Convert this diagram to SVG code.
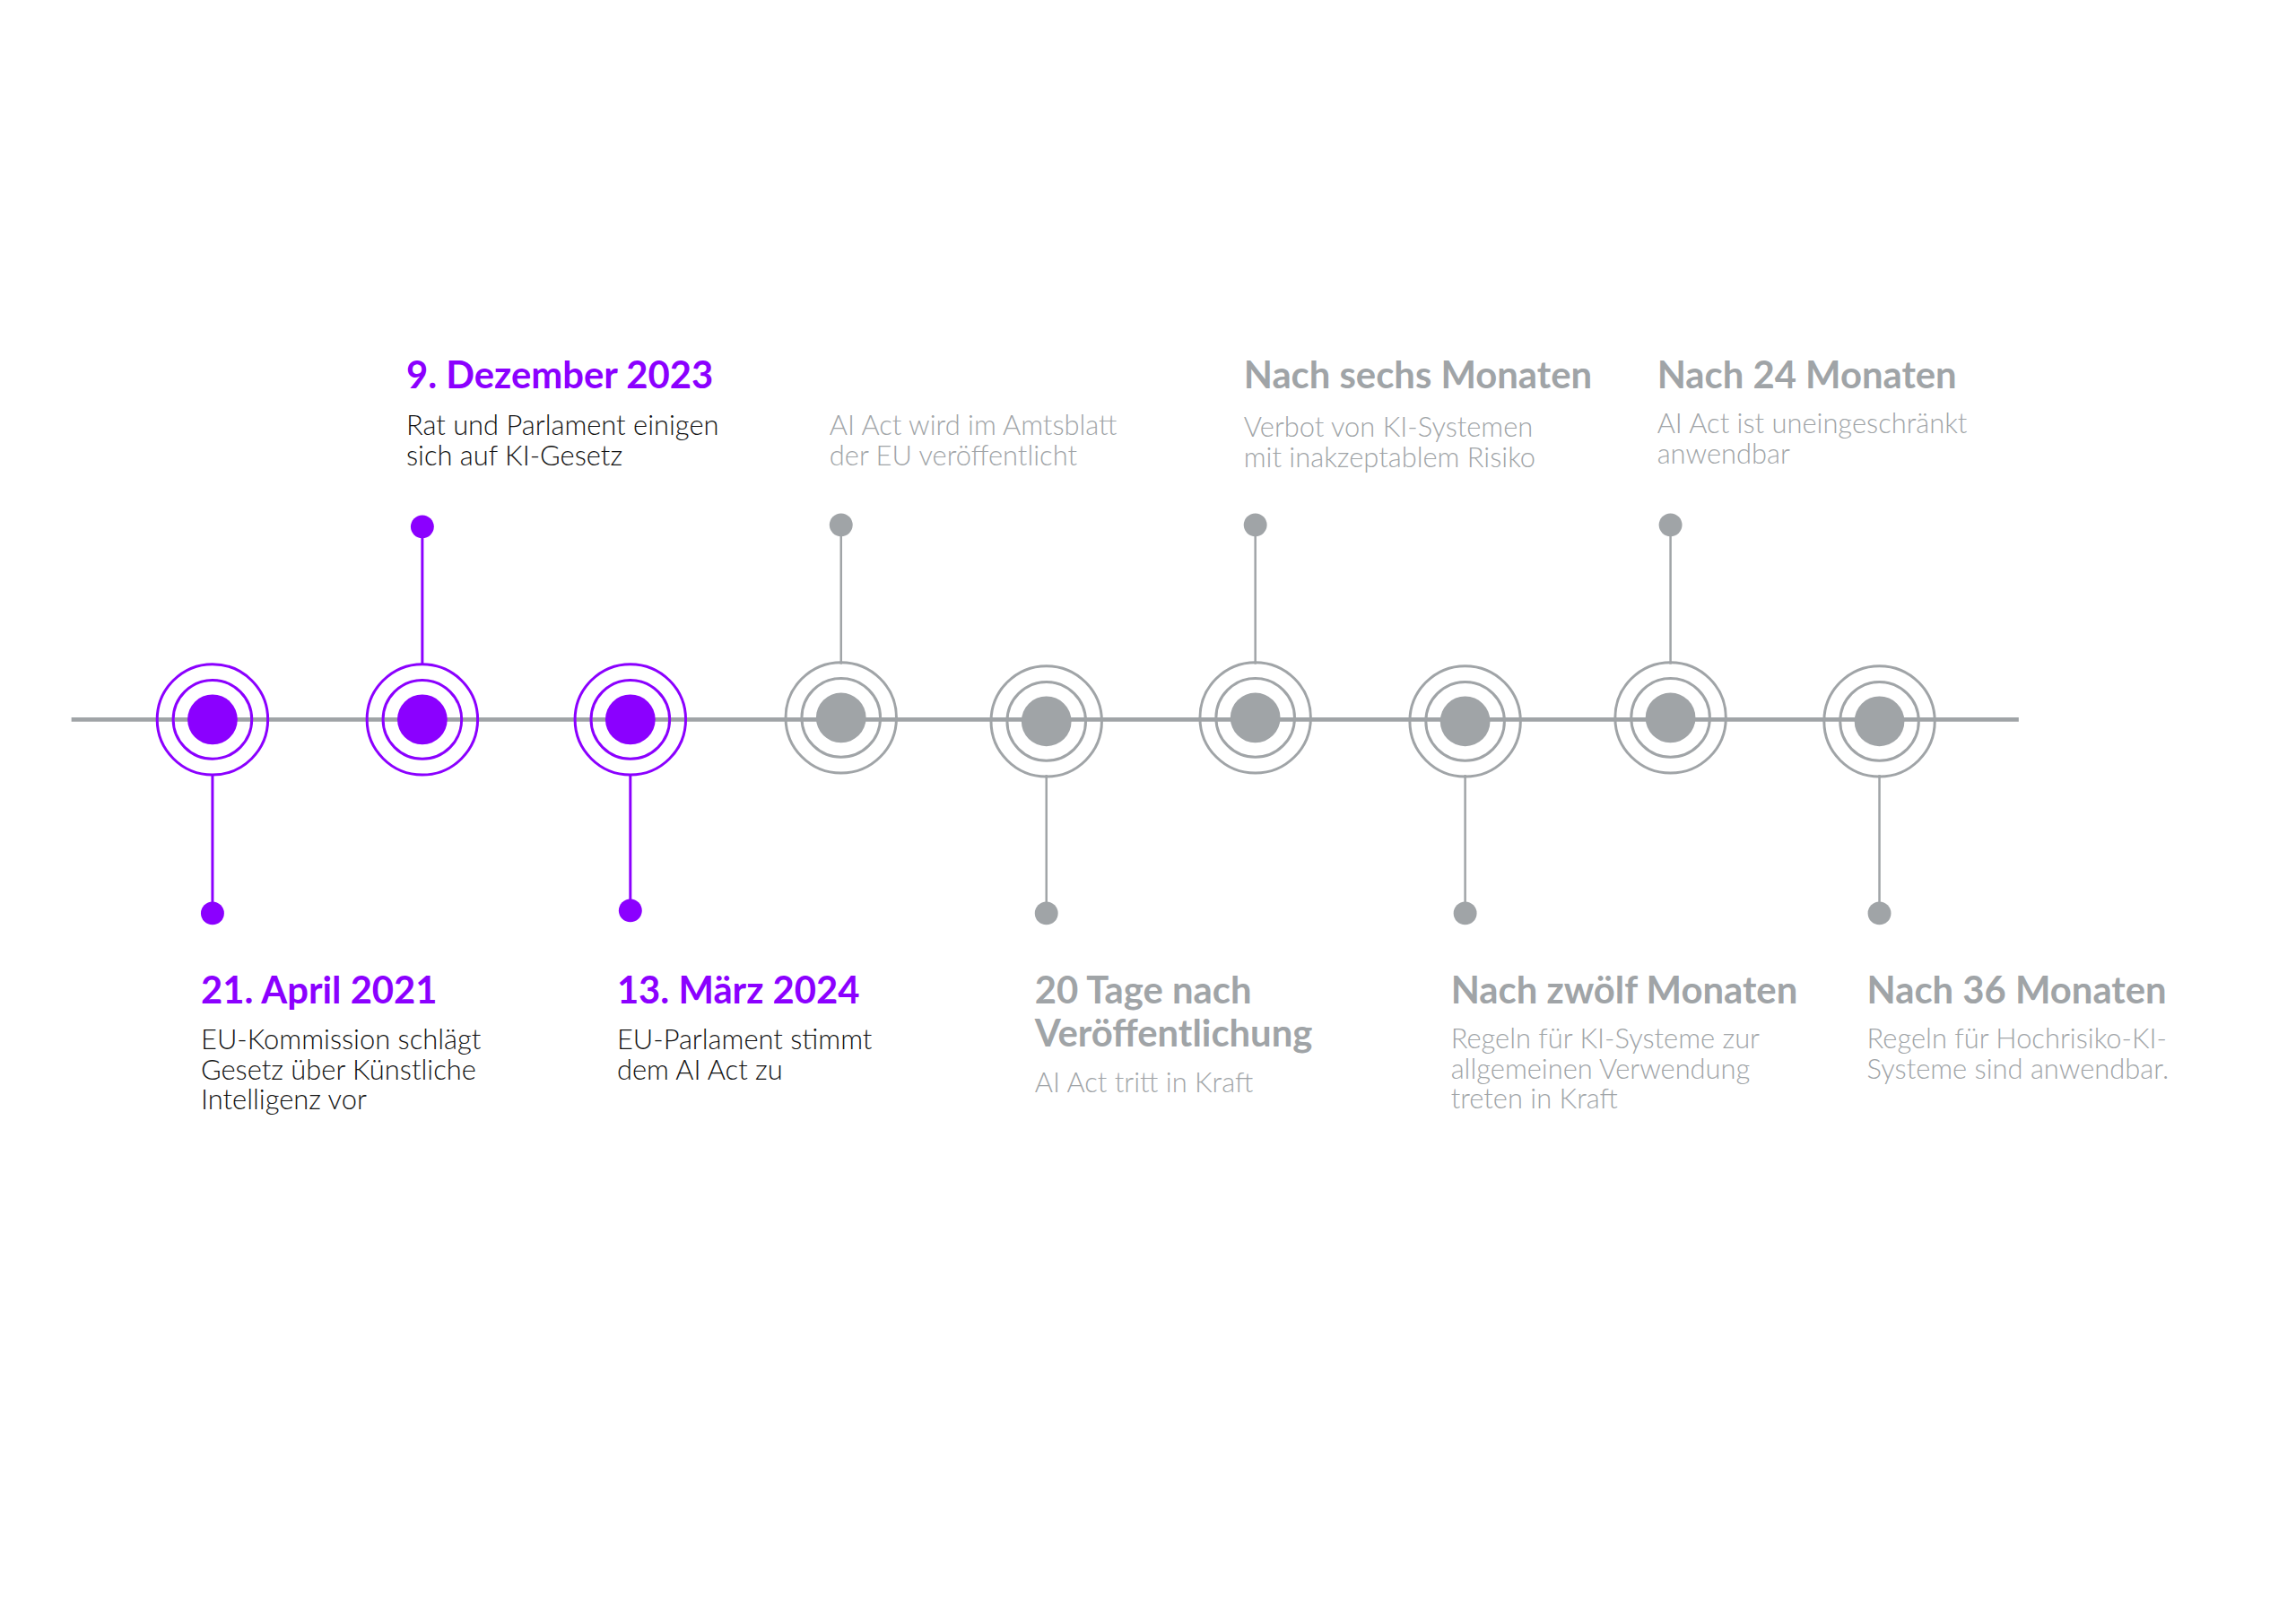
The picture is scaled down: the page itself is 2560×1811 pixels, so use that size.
<svg xmlns="http://www.w3.org/2000/svg" width="2560" height="1811" viewBox="0 0 2560 1811">
<style>
.h{font-family:Lato,"Liberation Sans",sans-serif;font-weight:700;font-size:42px}
.b{font-family:Lato,"Liberation Sans",sans-serif;font-weight:300;font-size:31px}
.p{fill:#8B00FF}.g{fill:#A0A4A7}.k{fill:#111}
.rp{fill:none;stroke:#8B00FF;stroke-width:3}
.rg{fill:none;stroke:#A0A4A7;stroke-width:3}
.sp{stroke:#8B00FF;stroke-width:3}.sg{stroke:#A0A4A7;stroke-width:2.5}
</style>
<rect width="2560" height="1811" fill="#fff"/>
<g transform="scale(0.9955)">
<g id="connectors">
<line x1="80" y1="806" x2="2261" y2="806" stroke="#A0A4A7" stroke-width="5"/>
<line class="sp" x1="238" y1="868" x2="238" y2="1023"/>
<line class="sp" x1="473" y1="744" x2="473" y2="590"/>
<line class="sp" x1="706" y1="868" x2="706" y2="1020"/>
<line class="sg" x1="942" y1="744" x2="942" y2="588"/>
<line class="sg" x1="1172" y1="868" x2="1172" y2="1023"/>
<line class="sg" x1="1406" y1="744" x2="1406" y2="588"/>
<line class="sg" x1="1641" y1="868" x2="1641" y2="1023"/>
<line class="sg" x1="1871" y1="744" x2="1871" y2="588"/>
<line class="sg" x1="2105" y1="868" x2="2105" y2="1023"/>
</g>
<g id="n1"><circle class="rp" cx="238" cy="806" r="62"/><circle class="rp" cx="238" cy="806" r="44"/><circle class="p" cx="238" cy="806" r="28"/><circle class="p" cx="238" cy="1023" r="13"/>
<text class="h p" x="225" y="1124">21. April 2021</text><text class="b k" x="225" y="1175">EU-Kommission schlägt</text><text class="b k" x="225" y="1209">Gesetz über Künstliche</text><text class="b k" x="225" y="1243">Intelligenz vor</text></g>
<g id="n2"><circle class="rp" cx="473" cy="806" r="62"/><circle class="rp" cx="473" cy="806" r="44"/><circle class="p" cx="473" cy="806" r="28"/><circle class="p" cx="473" cy="590" r="13"/>
<text class="h p" x="455" y="435">9. Dezember 2023</text><text class="b k" x="455" y="487">Rat und Parlament einigen</text><text class="b k" x="455" y="521">sich auf KI-Gesetz</text></g>
<g id="n3"><circle class="rp" cx="706" cy="806" r="62"/><circle class="rp" cx="706" cy="806" r="44"/><circle class="p" cx="706" cy="806" r="28"/><circle class="p" cx="706" cy="1020" r="13"/>
<text class="h p" x="691" y="1124">13. März 2024</text><text class="b k" x="691" y="1175">EU-Parlament stimmt</text><text class="b k" x="691" y="1209">dem AI Act zu</text></g>
<g id="n4"><circle class="rg" cx="942" cy="804" r="62"/><circle class="rg" cx="942" cy="804" r="44"/><circle class="g" cx="942" cy="804" r="28"/><circle class="g" cx="942" cy="588" r="13"/>
<text class="b g" x="929" y="487">AI Act wird im Amtsblatt</text><text class="b g" x="929" y="521">der EU veröffentlicht</text></g>
<g id="n5"><circle class="rg" cx="1172" cy="808" r="62"/><circle class="rg" cx="1172" cy="808" r="44"/><circle class="g" cx="1172" cy="808" r="28"/><circle class="g" cx="1172" cy="1023" r="13"/>
<text class="h g" x="1159" y="1124">20 Tage nach</text><text class="h g" x="1159" y="1172">Veröffentlichung</text><text class="b g" x="1159" y="1224">AI Act tritt in Kraft</text></g>
<g id="n6"><circle class="rg" cx="1406" cy="804" r="62"/><circle class="rg" cx="1406" cy="804" r="44"/><circle class="g" cx="1406" cy="804" r="28"/><circle class="g" cx="1406" cy="588" r="13"/>
<text class="h g" x="1393" y="435">Nach sechs Monaten</text><text class="b g" x="1393" y="489">Verbot von KI-Systemen</text><text class="b g" x="1393" y="523">mit inakzeptablem Risiko</text></g>
<g id="n7"><circle class="rg" cx="1641" cy="808" r="62"/><circle class="rg" cx="1641" cy="808" r="44"/><circle class="g" cx="1641" cy="808" r="28"/><circle class="g" cx="1641" cy="1023" r="13"/>
<text class="h g" x="1625" y="1124">Nach zwölf Monaten</text><text class="b g" x="1625" y="1174">Regeln für KI-Systeme zur</text><text class="b g" x="1625" y="1208">allgemeinen Verwendung</text><text class="b g" x="1625" y="1242">treten in Kraft</text></g>
<g id="n8"><circle class="rg" cx="1871" cy="804" r="62"/><circle class="rg" cx="1871" cy="804" r="44"/><circle class="g" cx="1871" cy="804" r="28"/><circle class="g" cx="1871" cy="588" r="13"/>
<text class="h g" x="1856" y="435">Nach 24 Monaten</text><text class="b g" x="1856" y="485">AI Act ist uneingeschränkt</text><text class="b g" x="1856" y="519">anwendbar</text></g>
<g id="n9"><circle class="rg" cx="2105" cy="808" r="62"/><circle class="rg" cx="2105" cy="808" r="44"/><circle class="g" cx="2105" cy="808" r="28"/><circle class="g" cx="2105" cy="1023" r="13"/>
<text class="h g" x="2091" y="1124">Nach 36 Monaten</text><text class="b g" x="2091" y="1174">Regeln für Hochrisiko-KI-</text><text class="b g" x="2091" y="1208">Systeme sind anwendbar.</text></g>
</g>
</svg>
